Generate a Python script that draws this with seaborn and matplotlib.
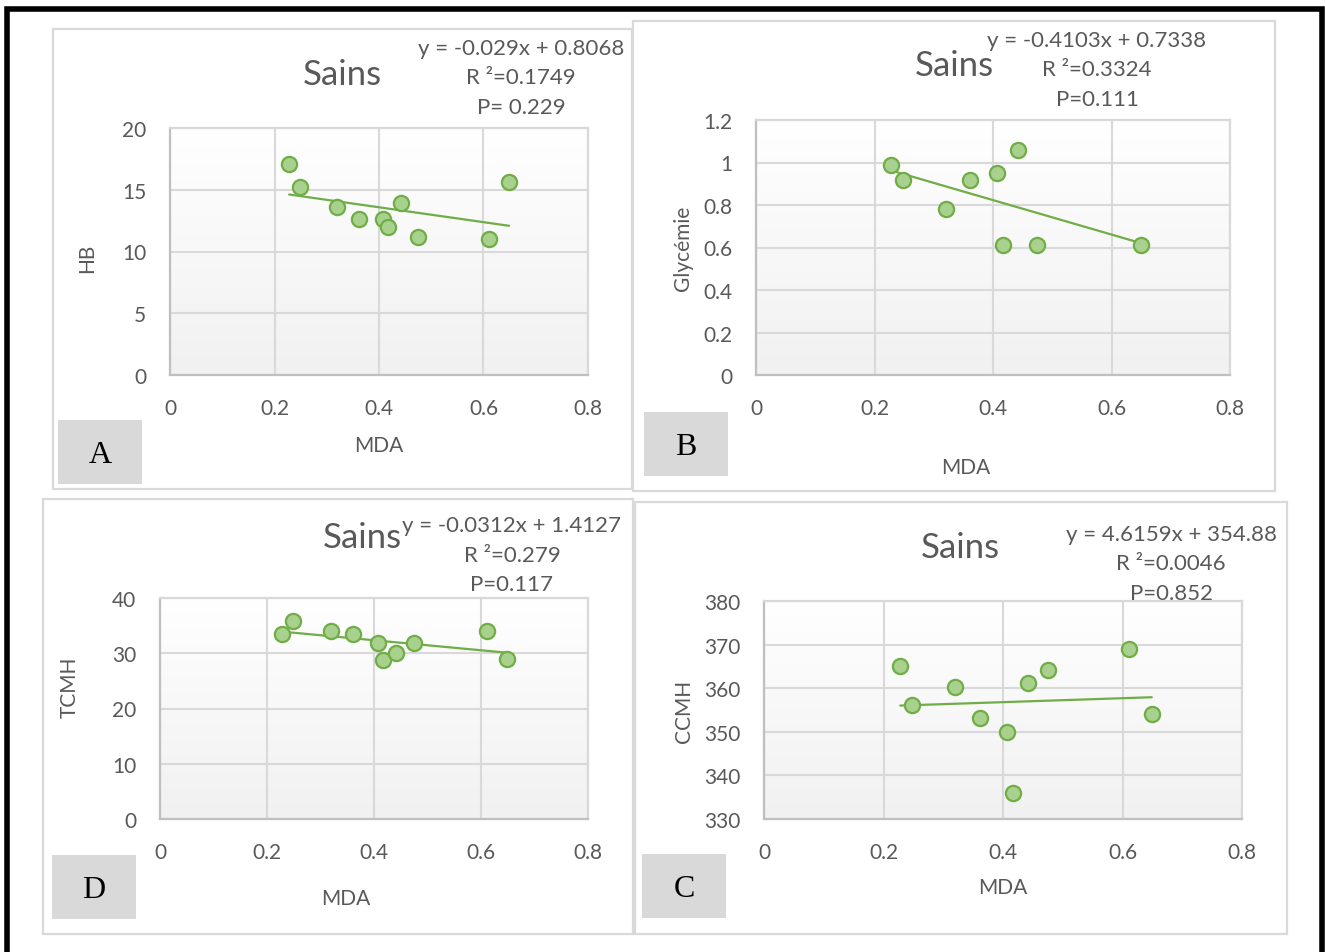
import numpy as np
import matplotlib
matplotlib.use("Agg")
import matplotlib.pyplot as plt
import seaborn as sns
from matplotlib.patches import Rectangle
from matplotlib.lines import Line2D
from matplotlib.colors import LinearSegmentedColormap
from matplotlib.ticker import FuncFormatter

# ---- data -------------------------------------------------------------
mda = [0.228, 0.248, 0.320, 0.361, 0.407, 0.417, 0.442, 0.475, 0.611, 0.649]
hb = [17.1, 15.2, 13.6, 12.6, 12.6, 12.0, 13.95, 11.2, 11.0, 15.6]
mda_gly = [0.228, 0.248, 0.320, 0.361, 0.407, 0.417, 0.442, 0.475, 0.649]
glycemie = [0.99, 0.92, 0.78, 0.92, 0.95, 0.61, 1.06, 0.61, 0.61]
tcmh = [33.4, 35.8, 34.0, 33.4, 31.9, 28.8, 30.0, 31.9, 34.0, 28.9]
ccmh = [365.0, 356.1, 360.2, 353.1, 350.0, 336.0, 361.1, 364.1, 369.1, 354.0]

x_ticks = [0, 0.2, 0.4, 0.6, 0.8]
hb_ticks = [0, 5, 10, 15, 20]
gly_ticks = [0, 0.2, 0.4, 0.6, 0.8, 1.0, 1.2]
tcmh_ticks = [0, 10, 20, 30, 40]
ccmh_ticks = [330, 340, 350, 360, 370, 380]

title = "Sains"
eq_a = ["y = -0.029x + 0.8068", "R \u00b2=0.1749", "P= 0.229"]
eq_b = ["y = -0.4103x + 0.7338", "R \u00b2=0.3324", "P=0.111"]
eq_d = ["y = -0.0312x + 1.4127", "R \u00b2=0.279", "P=0.117"]
eq_c = ["y = 4.6159x + 354.88", "R \u00b2=0.0046", "P=0.852"]

# ---- style ------------------------------------------------------------
W, H = 1325, 953
sns.set_theme(style="white")
plt.rcParams["font.family"] = ["Lato", "DejaVu Sans"]

TXT = "#595959"
GRID = "#d9d9d9"
GREEN = "#70ad47"
FILL = "#a9d18e"

fig = plt.figure(figsize=(W / 100, H / 100), dpi=100)
fig.patch.set_facecolor("white")


def fx(x):
    return x / W


def fy(y):
    return 1 - y / H


def fig_text(x, y, s, **kw):
    fig.text(fx(x), fy(y), s, ha=kw.pop("ha", "center"), va=kw.pop("va", "center"),
             color=kw.pop("color", TXT), **kw)


grad_cmap = LinearSegmentedColormap.from_list("bg", ["#ffffff", "#f1f1f1"])

panels = [
    dict(box=(53, 30, 632, 490), ax=(170, 129, 588, 376), x=mda, y=hb, yt=hb_ticks,
         ylabel="HB", ylab_xy=(87, 258), xlab_xy=(379, 446), title_xy=(342, 75),
         eq=eq_a, eq_x=521, eq_y=49, letter="A", lbox=(58, 421, 142, 485)),
    dict(box=(633, 22, 1275, 492), ax=(756, 121, 1230, 376), x=mda_gly, y=glycemie, yt=gly_ticks,
         ylabel="Glycémie", ylab_xy=(683, 248), xlab_xy=(966, 468), title_xy=(954, 66),
         eq=eq_b, eq_x=1097, eq_y=41, letter="B", lbox=(644, 413, 728, 477)),
    dict(box=(43, 500, 633, 935), ax=(160, 599, 588, 820), x=mda, y=tcmh, yt=tcmh_ticks,
         ylabel="TCMH", ylab_xy=(70, 687), xlab_xy=(346, 899), title_xy=(362, 538),
         eq=eq_d, eq_x=512, eq_y=526, letter="D", lbox=(52, 856, 136, 920)),
    dict(box=(635, 503, 1287, 935), ax=(764, 602, 1242, 820), x=mda, y=ccmh, yt=ccmh_ticks,
         ylabel="CCMH", ylab_xy=(684, 711), xlab_xy=(1003, 888), title_xy=(960, 548),
         eq=eq_c, eq_x=1171, eq_y=535, letter="C", lbox=(642, 855, 726, 919)),
]

fmt = FuncFormatter(lambda v, p: f"{v:g}")

for p in panels:
    # panel frame
    x0, y0, x1, y1 = p["box"]
    fig.add_artist(Rectangle((fx(x0), fy(y1)), fx(x1) - fx(x0), fy(y0) - fy(y1),
                             transform=fig.transFigure, fill=False,
                             edgecolor=GRID, lw=1.6, zorder=0))

    l, t, r, b = p["ax"]
    ax = fig.add_axes([fx(l), fy(b), fx(r) - fx(l), fy(t) - fy(b)])
    ylo, yhi = p["yt"][0], p["yt"][-1]

    # soft vertical gradient behind the plot area
    grad = np.linspace(0, 1, 256).reshape(-1, 1)
    ax.imshow(grad, extent=[0, 0.8, ylo, yhi], origin="upper", aspect="auto",
              cmap=grad_cmap, zorder=0)

    sns.regplot(x=np.array(p["x"]), y=np.array(p["y"]), ax=ax, ci=None, truncate=True,
                color=GREEN,
                scatter_kws=dict(s=120, facecolor=FILL, edgecolor=GREEN,
                                 linewidths=1.6, alpha=1, zorder=3),
                line_kws=dict(color=GREEN, lw=1.6, zorder=2))

    ax.set_xlim(0, 0.8)
    ax.set_ylim(ylo, yhi)
    ax.set_xticks(x_ticks)
    ax.set_yticks(p["yt"])
    ax.xaxis.set_major_formatter(fmt)
    ax.yaxis.set_major_formatter(fmt)
    ax.set_xlabel("")
    ax.set_ylabel("")
    ax.grid(True, color=GRID, lw=1.5)
    ax.set_axisbelow(True)
    ax.tick_params(length=0, labelsize=15, labelcolor=TXT)
    ax.tick_params(axis="y", pad=17)
    ax.tick_params(axis="x", pad=16.5)
    for name, sp in ax.spines.items():
        sp.set_visible(True)
        sp.set_linewidth(1.6)
        sp.set_color("#bfbfbf" if name in ("left", "bottom") else GRID)

    # texts
    fig_text(*p["title_xy"], title, fontsize=25)
    for i, line in enumerate(p["eq"]):
        fig_text(p["eq_x"], p["eq_y"] + 29.5 * i, line, fontsize=16)
    fig_text(*p["xlab_xy"], "MDA", fontsize=15)
    fig_text(*p["ylab_xy"], p["ylabel"], fontsize=15, rotation=90)

    # letter tag
    a0, b0, a1, b1 = p["lbox"]
    fig.add_artist(Rectangle((fx(a0), fy(b1)), fx(a1) - fx(a0), fy(b0) - fy(b1),
                             transform=fig.transFigure, facecolor="#d9d9d9",
                             edgecolor="none", zorder=1))
    fig.text(fx((a0 + a1) / 2), fy((b0 + b1) / 2 + 3), p["letter"], ha="center", va="center",
             color="black", fontsize=23, family="Liberation Serif", zorder=2)

# outer black frame (open at the bottom)
fig.add_artist(Line2D([fx(7.5), fx(7.5), fx(1322), fx(1322)],
                      [fy(960), fy(10), fy(10), fy(960)],
                      transform=fig.transFigure, color="black", lw=4,
                      solid_joinstyle="miter"))

fig.savefig("out.png", dpi=100)
